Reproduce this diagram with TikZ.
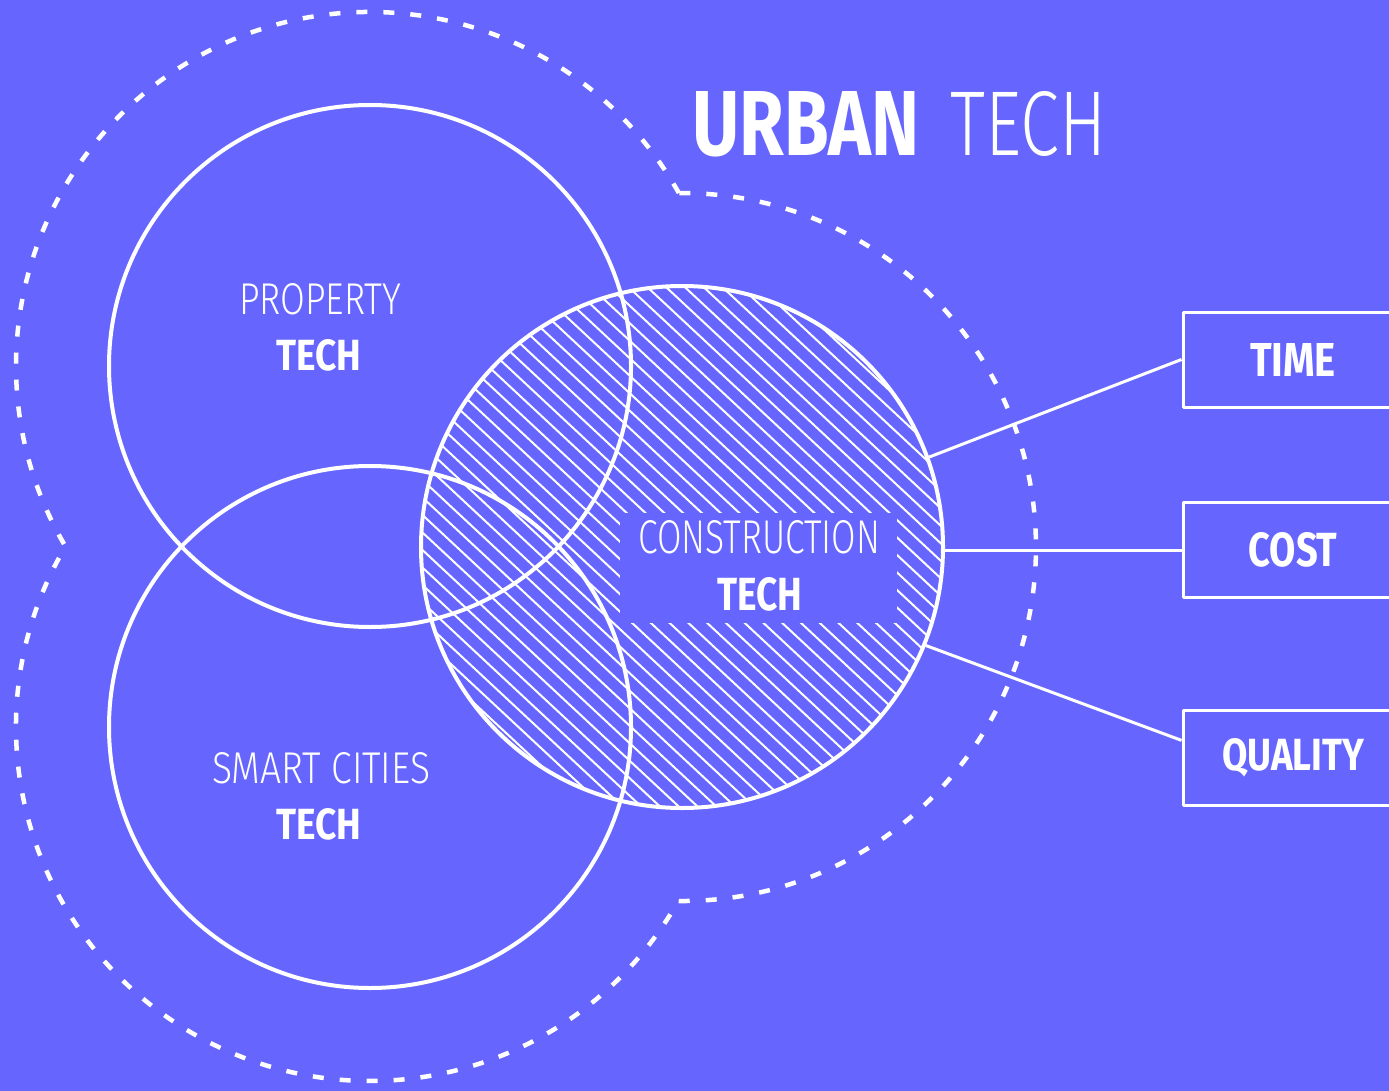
\documentclass[tikz,border=0pt]{standalone}
\usepackage{fontspec}
\setmainfont{Fira Sans}
\newfontfamily\thinfont{Fira Sans Light}
\usepackage{graphicx}
\usetikzlibrary{calc}
\definecolor{bg}{RGB}{102,102,255}
\newcommand{\fitbox}[3]{\resizebox{#1pt}{#2pt}{#3}}
\begin{document}
\begin{tikzpicture}[x=1pt,y=1pt, line join=round,
  circ/.style={circle, draw=white, line width=4pt, minimum size=522pt, inner sep=0pt},
  hatchline/.style={draw=white, line width=2pt},
  outline/.style={draw=white, line width=4.5pt, dash pattern=on 11pt off 16pt},
  boxstyle/.style={draw=white, line width=3pt, rectangle, minimum width=220pt, minimum height=95pt, inner sep=0pt, text=white},
  link/.style={draw=white, line width=3pt},
  txt/.style={inner sep=0pt, anchor=base west, text=white}]
\fill[bg] (0,0) rectangle (1389,-1091);
\useasboundingbox (0,0) rectangle (1389,-1091);
\clip (0,0) rectangle (1389,-1091);
\coordinate (P) at (370,-366);
\coordinate (S) at (370,-727);
\coordinate (C) at (682,-547);
% hatch
\begin{scope}
  \clip (C) circle[radius=261];
  \begin{scope}[shift={(C)}, rotate=-43]
    \foreach \k in {-21,...,21} \draw[hatchline] (-280,\k*12.8) -- (280,\k*12.8);
  \end{scope}
\end{scope}
\fill[bg] (620,-513) rectangle (897,-623);
% circles
\node[circ] (prop) at (P) {};
\node[circ] (smart) at (S) {};
\node[circ] (cons) at (C) {};
% dashed outline
\draw[outline] ($(P)+(29.25:354)$) arc[start angle=29.25, end angle=210.66, radius=354]
  arc[start angle=149.34, end angle=330.56, radius=354]
  arc[start angle=269.4, end angle=450.51, radius=354] -- cycle;
% boxes
\node[boxstyle] (time) at (1293,-359.5) {\fitbox{86}{33}{\bfseries TIME}};
\node[boxstyle] (cost) at (1293,-550) {\fitbox{89}{34}{\bfseries COST}};
\node[boxstyle] (qual) at (1293,-758) {\fitbox{142}{32}{\bfseries QUALITY}};
% connectors
\draw[link] (cons.20.8) -- (time.west);
\draw[link] (cons.east |- cost.west) -- (cost.west);
\draw[link] (cons.-22.6) -- ($(qual.north west)!0.32!(qual.south west)$);
% texts
\node[txt] (urban) at (692,-156) {\fitbox{227}{64}{\bfseries URBAN}};
\node[txt] (urbantech) at (950,-156) {\fitbox{156}{64}{\thinfont TECH}};
\node[txt] (propa) at (239,-315) {\fitbox{162}{31}{\thinfont PROPERTY}};
\node[txt] (propb) at (276,-370) {\fitbox{85}{31}{\bfseries TECH}};
\node[txt] (smarta) at (212,-783) {\fitbox{218}{31}{\thinfont SMART CITIES}};
\node[txt] (smartb) at (276,-839) {\fitbox{85}{31}{\bfseries TECH}};
\node[txt] (consa) at (638,-553) {\fitbox{242}{33}{\thinfont CONSTRUCTION}};
\node[txt] (consb) at (717,-610) {\fitbox{85}{33}{\bfseries TECH}};
\end{tikzpicture}
\end{document}
